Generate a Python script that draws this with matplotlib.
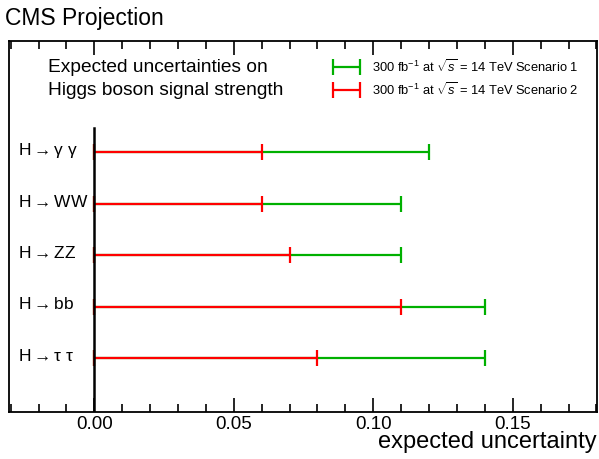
import matplotlib.pyplot as plt
from matplotlib.ticker import MultipleLocator
from matplotlib.legend_handler import HandlerErrorbar
from matplotlib.container import ErrorbarContainer

plt.rcParams['font.family'] = ['Liberation Sans', 'DejaVu Sans']
plt.rcParams['mathtext.fontset'] = 'custom'
plt.rcParams['mathtext.rm'] = 'Liberation Sans'
plt.rcParams['mathtext.it'] = 'Liberation Sans:italic'

channels = ['H$\\rightarrow$\u03b3 \u03b3', 'H$\\rightarrow$WW', 'H$\\rightarrow$ZZ',
            'H$\\rightarrow$bb', 'H$\\rightarrow$\u03c4 \u03c4']
scenario1 = [0.12, 0.11, 0.11, 0.14, 0.14]
scenario2 = [0.06, 0.06, 0.07, 0.11, 0.08]
rows = [5, 4, 3, 2, 1]

fig = plt.figure(figsize=(5.99, 4.59), dpi=100)
ax = fig.add_axes([0.01503, 0.1031, 0.98114, 0.8076])

green = '#00b000'
red = '#ff0000'
s1 = ax.errorbar([v / 2 for v in scenario1], rows, xerr=[v / 2 for v in scenario1],
                 fmt='none', ecolor=green, elinewidth=1.6, capsize=6, capthick=1.6,
                 label='300 fb$^{-1}$ at $\\sqrt{s}$ = 14 TeV Scenario 1', zorder=2)
s2 = ax.errorbar([v / 2 for v in scenario2], rows, xerr=[v / 2 for v in scenario2],
                 fmt='none', ecolor=red, elinewidth=1.6, capsize=6, capthick=1.6,
                 label='300 fb$^{-1}$ at $\\sqrt{s}$ = 14 TeV Scenario 2', zorder=3)

# zero line
ax.plot([0, 0], [-0.05, 5.47], color='black', lw=1.8, zorder=4)

for name, y in zip(channels, rows):
    ax.text(-0.0272, y + 0.04, name, fontsize=12.5, ha='left', va='center')

ax.text(-0.0166, 6.64, 'Expected uncertainties on', fontsize=13.8, va='center')
ax.text(-0.0166, 6.19, 'Higgs boson signal strength', fontsize=13.8, va='center')

ax.legend(handles=[s1, s2], loc='upper left', bbox_to_anchor=(0.53, 0.985),
          frameon=False, fontsize=9.3, handlelength=2.2, handletextpad=0.9,
          labelspacing=0.45,
          handler_map={ErrorbarContainer: HandlerErrorbar(xerr_size=1.05)})

ax.set_xlim(-0.0306, 0.1801)
ax.set_ylim(-0.043, 7.16)
ax.set_yticks([])
ax.xaxis.set_major_locator(MultipleLocator(0.05))
ax.xaxis.set_minor_locator(MultipleLocator(0.01))
ax.xaxis.set_major_formatter(plt.FormatStrFormatter('%.2f'))
ax.tick_params(axis='x', which='both', direction='in', top=True, labelsize=13.5, width=1.2)
ax.tick_params(axis='x', which='major', length=10, pad=3)
ax.tick_params(axis='x', which='minor', length=5.5)
for sp in ax.spines.values():
    sp.set_linewidth(1.3)

ax.set_xlabel('expected uncertainty', fontsize=17, loc='right', labelpad=-1)
fig.text(0.008, 0.96, 'CMS Projection', fontsize=16.5, va='center')

fig.savefig('out.png', dpi=100)
